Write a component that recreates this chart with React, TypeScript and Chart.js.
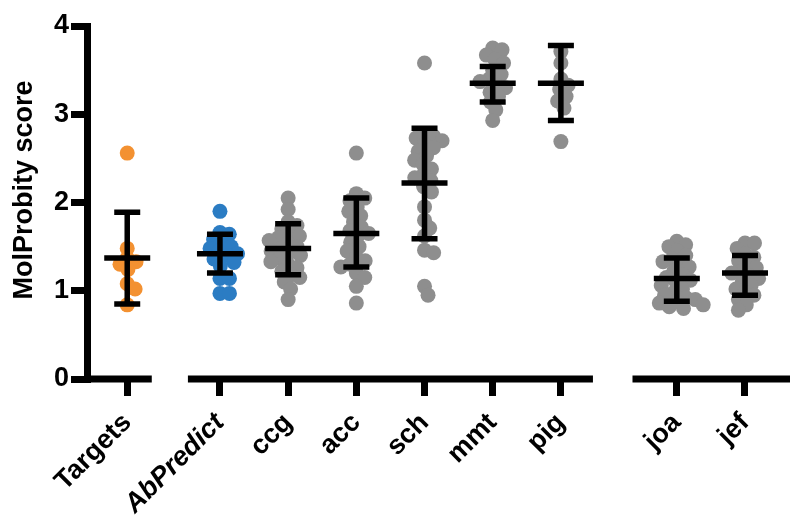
import React, { useEffect, useRef } from "react";
import { Chart, registerables } from "chart.js";

Chart.register(...registerables);

const FONT = "'Liberation Sans', Arial, Helvetica, sans-serif";

// Categories and their x positions (gaps between groups as in the figure)
const categories = ["Targets", "AbPredict", "ccg", "acc", "sch", "mmt", "pig", "joa", "jef"];
const positions = [0, 1.36, 2.36, 3.36, 4.36, 5.36, 6.36, 8.06, 9.06];

// Individual MolProbity scores per group
const targetsScores = [2.56, 1.48, 1.37, 1.33, 1.3, 1.24, 1.08, 1.02, 0.84];
const abPredictScores = [1.9, 1.66, 1.64, 1.58, 1.55, 1.5, 1.48, 1.45, 1.42, 1.4, 1.36, 1.32, 1.28, 1.14, 1.14, 0.97, 0.97];
const ccgScores = [2.05, 1.92, 1.78, 1.74, 1.7, 1.66, 1.62, 1.6, 1.57, 1.54, 1.5, 1.48, 1.45, 1.42, 1.4, 1.37, 1.33, 1.3, 1.26, 1.22, 1.18, 1.15, 1.1, 1.02, 0.9];
const accScores = [2.56, 2.1, 2.05, 2.02, 1.95, 1.9, 1.85, 1.78, 1.72, 1.68, 1.65, 1.62, 1.55, 1.5, 1.45, 1.38, 1.34, 1.3, 1.27, 1.2, 1.15, 1.05, 0.86];
const schScores = [3.58, 2.78, 2.75, 2.73, 2.7, 2.66, 2.62, 2.58, 2.53, 2.48, 2.43, 2.38, 2.32, 2.28, 2.25, 2.18, 2.12, 1.95, 1.8, 1.71, 1.62, 1.46, 1.43, 1.05, 0.95];
const mmtScores = [3.75, 3.73, 3.67, 3.62, 3.58, 3.5, 3.45, 3.4, 3.37, 3.33, 3.3, 3.25, 3.2, 3.14, 3.05, 2.93];
const pigScores = [3.71, 3.58, 3.4, 3.33, 3.28, 3.2, 3.15, 3.07, 2.69];
const joaScores = [1.56, 1.52, 1.5, 1.45, 1.4, 1.36, 1.33, 1.3, 1.27, 1.22, 1.18, 1.15, 1.12, 1.1, 1.06, 1.02, 0.98, 0.95, 0.92, 0.9, 0.88, 0.86, 0.84, 0.82, 0.8];
const jefScores = [1.54, 1.54, 1.48, 1.42, 1.38, 1.34, 1.3, 1.26, 1.22, 1.2, 1.17, 1.14, 1.1, 1.06, 1.02, 0.98, 0.95, 0.9, 0.84, 0.78];

const groupScores = [targetsScores, abPredictScores, ccgScores, accScores, schScores, mmtScores, pigScores, joaScores, jefScores];

// Mean and mean ± SD bars
const means = [1.37, 1.42, 1.48, 1.65, 2.22, 3.35, 3.35, 1.14, 1.2];
const lowerBars = [0.85, 1.2, 1.18, 1.27, 1.59, 3.14, 2.93, 0.88, 0.95];
const upperBars = [1.89, 1.64, 1.76, 2.05, 2.84, 3.54, 3.78, 1.37, 1.4];

const groupColors = ["#F39131", "#2B7CC3", "#8E8E8E", "#8E8E8E", "#8E8E8E", "#8E8E8E", "#8E8E8E", "#8E8E8E", "#8E8E8E"];

const yTicks = [0, 1, 2, 3, 4];
const axisSegments = [
  [-0.59, 0.36],
  [0.89, 6.83],
  [7.41, 9.72],
];
const yTitle = "MolProbity score";

function swarmOffsets(ys: number[], minDist: number): number[] {
  const order = ys.map((y, i) => i).sort((a, b) => ys[a] - ys[b]);
  const placed: { x: number; y: number }[] = [];
  const out = new Array(ys.length).fill(0);
  for (const i of order) {
    const y = ys[i];
    const cands = [0];
    for (const p of placed) {
      const dy = y - p.y;
      if (Math.abs(dy) < minDist) {
        const dx = Math.sqrt(minDist * minDist - dy * dy);
        cands.push(p.x + dx, p.x - dx);
      }
    }
    cands.sort((a, b) => Math.abs(a) - Math.abs(b) || b - a);
    let chosen = 0;
    for (const c of cands) {
      let ok = true;
      for (const p of placed) {
        const dx = c - p.x;
        const dy = y - p.y;
        if (dx * dx + dy * dy < minDist * minDist - 0.01) {
          ok = false;
          break;
        }
      }
      if (ok) {
        chosen = c;
        break;
      }
    }
    placed.push({ x: chosen, y });
    out[i] = chosen;
  }
  return out;
}

const decorPlugin = {
  id: "decor",
  afterDatasetsDraw(chart: any) {
    const { ctx, scales } = chart;
    const xs = scales.x;
    const ys = scales.y;
    ctx.save();
    ctx.strokeStyle = "#000";
    ctx.lineWidth = 5.5;
    ctx.lineCap = "butt";
    positions.forEach((pos, i) => {
      const x = xs.getPixelForValue(pos);
      const ym = ys.getPixelForValue(means[i]);
      const yl = ys.getPixelForValue(lowerBars[i]);
      const yu = ys.getPixelForValue(upperBars[i]);
      ctx.beginPath();
      ctx.moveTo(x, yu);
      ctx.lineTo(x, yl);
      ctx.moveTo(x - 23, ym);
      ctx.lineTo(x + 23, ym);
      ctx.moveTo(x - 13, yu);
      ctx.lineTo(x + 13, yu);
      ctx.moveTo(x - 13, yl);
      ctx.lineTo(x + 13, yl);
      ctx.stroke();
    });
    ctx.restore();
  },
  afterDraw(chart: any) {
    const { ctx, scales } = chart;
    const xs = scales.x;
    const ys = scales.y;
    const y0 = ys.getPixelForValue(0);
    ctx.save();
    ctx.strokeStyle = "#000";
    ctx.lineWidth = 7;
    ctx.lineCap = "butt";
    for (const [a, b] of axisSegments) {
      ctx.beginPath();
      ctx.moveTo(xs.getPixelForValue(a), y0);
      ctx.lineTo(xs.getPixelForValue(b), y0);
      ctx.stroke();
    }
    // y-axis title
    ctx.translate(25, 190);
    ctx.rotate(-Math.PI / 2);
    ctx.fillStyle = "#000";
    ctx.font = `bold 27px ${FONT}`;
    ctx.textAlign = "center";
    ctx.textBaseline = "middle";
    ctx.fillText(yTitle, 0, 0);
    ctx.restore();
  },
};

export default function App() {
  const canvasRef = useRef<HTMLCanvasElement | null>(null);

  useEffect(() => {
    const canvas = canvasRef.current;
    if (!canvas) return;

    const datasets = groupScores.map((vals, i) => ({
      label: categories[i],
      data: vals.map((v) => ({ x: positions[i], y: v })),
      backgroundColor: groupColors[i],
      borderWidth: 0,
      pointRadius: 7.5,
      pointHoverRadius: 7.5,
    }));

    const chart = new Chart(canvas, {
      type: "scatter",
      data: { datasets },
      plugins: [decorPlugin],
      options: {
        responsive: false,
        animation: false,
        devicePixelRatio: 1,
        layout: { padding: { top: 26, right: 10, left: 0, bottom: 0 } },
        plugins: { legend: { display: false }, tooltip: { enabled: false }, title: { display: false } },
        scales: {
          x: {
            type: "linear",
            min: axisSegments[0][0],
            max: axisSegments[2][1],
            afterFit: (scale: any) => {
              scale.height = 146;
            },
            afterBuildTicks: (scale: any) => {
              scale.ticks = positions.map((v) => ({ value: v }));
            },
            border: { display: false },
            grid: {
              display: true,
              drawOnChartArea: false,
              drawTicks: true,
              tickLength: 17,
              lineWidth: 7,
              color: "#000",
            },
            ticks: {
              autoSkip: false,
              minRotation: 45,
              maxRotation: 45,
              padding: 11,
              color: "#000",
              font: (c: any) => ({
                family: FONT,
                size: 27,
                weight: "bold",
                style: c.index === 1 ? "italic" : "normal",
              }),
              callback: (_v: any, index: number) => categories[index],
            },
          },
          y: {
            type: "linear",
            min: yTicks[0],
            max: yTicks[yTicks.length - 1],
            afterFit: (scale: any) => {
              scale.width = 87;
            },
            afterBuildTicks: (scale: any) => {
              scale.ticks = yTicks.map((v) => ({ value: v }));
            },
            border: { display: true, width: 7, color: "#000" },
            grid: {
              display: true,
              drawOnChartArea: false,
              drawTicks: true,
              tickLength: 16,
              lineWidth: 7,
              color: "#000",
            },
            ticks: {
              padding: 2,
              color: "#000",
              font: { family: FONT, size: 27, weight: "bold" },
              callback: (v: any) => String(v),
            },
          },
        },
      },
    });

    // Spread points horizontally (beeswarm) in pixel space, then convert back to data units
    const xs: any = chart.scales.x;
    const ys: any = chart.scales.y;
    const pxPerUnit = xs.getPixelForValue(1) - xs.getPixelForValue(0);
    groupScores.forEach((vals, i) => {
      const yPix = vals.map((v) => ys.getPixelForValue(v));
      const offs = swarmOffsets(yPix, 9.5);
      (chart.data.datasets[i] as any).data = vals.map((v, k) => ({
        x: positions[i] + offs[k] / pxPerUnit,
        y: v,
      }));
    });
    chart.update("none");

    return () => {
      chart.destroy();
    };
  }, []);

  return (
    <div style={{ position: "absolute", left: 0, top: 0, width: 800, height: 525, background: "#fff" }}>
      <canvas ref={canvasRef} width={800} height={525} style={{ width: 800, height: 525 }} />
    </div>
  );
}
